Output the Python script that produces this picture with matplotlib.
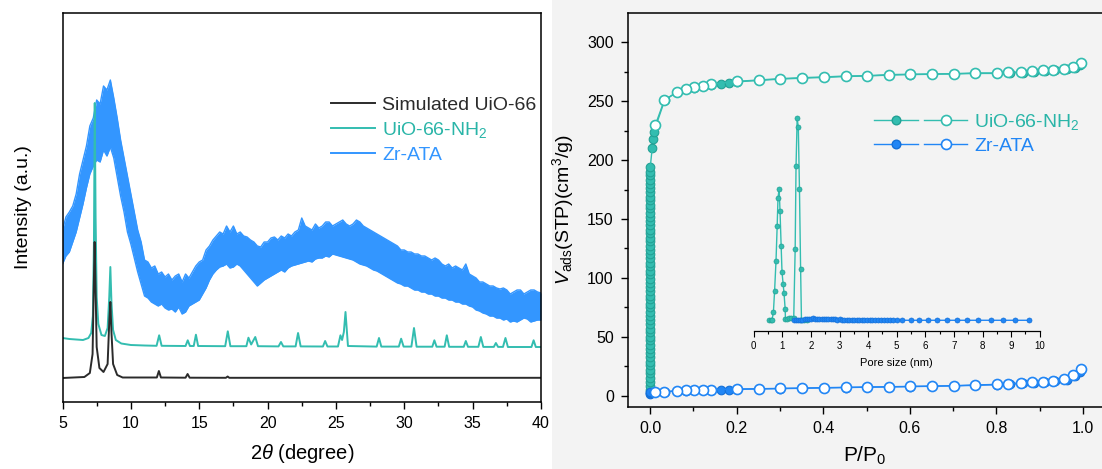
import matplotlib
matplotlib.use("Agg")
import matplotlib.pyplot as plt
import numpy as np
from matplotlib.lines import Line2D
from matplotlib.legend_handler import HandlerTuple
from matplotlib.patches import Rectangle
from matplotlib.ticker import MultipleLocator

plt.rcParams['font.family'] = ['Liberation Sans', 'DejaVu Sans']
plt.rcParams['mathtext.fontset'] = 'custom'
plt.rcParams['mathtext.rm'] = 'Liberation Sans'
plt.rcParams['mathtext.it'] = 'Liberation Sans:italic'

BLACK = '#2b2b2b'
TEAL = '#33bdb0'
TEAL_TXT = '#2ab5a8'
BLUE_XRD = '#3396ff'
BLUE = '#2186f5'

# ---------------- XRD patterns ----------------
sim_2theta = [5.0, 6.6, 7.0, 7.2, 7.28, 7.35, 7.42, 7.5, 7.7, 8.0, 8.3, 8.42, 8.5, 8.58, 8.7, 9.0,
              9.4, 11.9, 12.05, 12.2, 14.0, 14.15, 14.3, 16.95, 17.08, 17.2, 40.0]
sim_int = [24, 25, 29, 48, 110, 160, 112, 55, 34, 30, 38, 80, 100, 70, 38, 27,
           24.5, 24.5, 31, 24.5, 24.3, 28, 24.3, 24.2, 25.5, 24.2, 24.2]

nh2_2theta = [5.0, 5.5, 6.0, 6.5, 6.9, 7.1, 7.22, 7.3, 7.36, 7.42, 7.5, 7.62, 7.85, 8.1, 8.3, 8.42,
              8.5, 8.58, 8.7, 8.9, 9.3, 10.0, 11.0, 11.88, 12.07, 12.25, 14.0, 14.16, 14.32, 14.6,
              14.76, 14.92, 16.9, 17.09, 17.28, 18.45, 18.6, 18.8, 19.1, 19.3, 20.8, 20.98, 21.15,
              22.05, 22.23, 22.42, 24.05, 24.21, 24.38, 25.15, 25.33, 25.45, 25.58, 25.7, 25.88,
              27.98, 28.15, 28.32, 29.6, 29.77, 29.95, 30.52, 30.71, 30.9, 32.05, 32.2, 32.36,
              32.95, 33.11, 33.28, 34.35, 34.5, 34.66, 35.42, 35.6, 35.78, 36.55, 36.7, 36.86,
              37.22, 37.4, 37.58, 39.3, 39.46, 39.62, 40.0]
nh2_int = [64, 63, 62.5, 62, 64, 69, 86, 160, 299, 185, 105, 78, 67, 66, 74, 105,
           135, 100, 72, 62, 58.5, 57, 56.5, 56.2, 66.7, 56.2, 56, 61.7, 56, 56,
           67.3, 56, 55.8, 70.7, 55.8, 55.8, 64.3, 57.5, 65, 55.8, 55.6, 60, 55.6,
           55.6, 69, 55.6, 55.5, 61, 55.5, 55.5, 66.7, 62, 70, 90, 56,
           55.4, 64, 55.4, 55.4, 63.3, 55.4, 55.4, 74, 55.3, 55.3, 61.7, 55.3,
           55.3, 66.7, 55.2, 55.2, 61, 55.2, 55.2, 65, 55.1, 55.1, 59, 55.1,
           55.1, 64, 55.0, 55.0, 61.7, 55.0, 55.0]

# Zr-ATA is a very noisy broad pattern: drawn as its lower/upper envelope, 0.25 deg apart
ata_2theta = np.arange(5.0, 40.001, 0.25)
ata_up = [172, 185, 190, 196,
          208, 228, 242, 256,
          276, 284, 302, 298,
          316, 312, 322, 304,
          284, 262, 244, 226,
          208, 190, 172, 160,
          142, 140, 134, 136,
          128, 130, 125, 128,
          122, 126, 128, 120,
          128, 124, 130, 136,
          140, 142, 152, 156,
          162, 166, 170, 168,
          176, 170, 176, 168,
          170, 166, 165, 162,
          160, 156, 155, 160,
          160, 164, 165, 162,
          166, 164, 168, 166,
          170, 172, 184, 176,
          174, 172, 178, 174,
          176, 180, 180, 176,
          178, 180, 182, 178,
          176, 178, 182, 180,
          176, 174, 172, 170,
          168, 166, 164, 162,
          160, 158, 156, 152,
          152, 150, 150, 148,
          148, 146, 146, 144,
          142, 144, 142, 138,
          136, 138, 134, 136,
          134, 132, 138, 128,
          126, 124, 120, 120,
          118, 116, 116, 114,
          113, 114, 112, 108,
          110, 112, 112, 108,
          110, 112, 112, 110,
          109]
ata_low = [138, 146, 150, 160,
           170, 184, 198, 214,
           228, 236, 242, 240,
           252, 246, 255, 244,
           225, 206, 190, 170,
           158, 144, 130, 118,
           106, 104, 100, 98,
           96, 98, 94, 92,
           93, 90, 95, 88,
           90, 96, 98, 100,
           102, 108, 114, 122,
           128, 132, 135, 136,
           138, 134, 135, 138,
           136, 132, 128, 124,
           120, 116, 119, 122,
           124, 126, 128, 130,
           132, 130, 134, 136,
           137, 138, 139, 140,
           141, 140, 143, 144,
           144, 146, 145, 148,
           147, 146, 145, 144,
           143, 142, 140, 138,
           137, 136, 134, 132,
           131, 129, 127, 125,
           123, 121, 119, 118,
           116, 116, 114, 112,
           112, 110, 110, 108,
           108, 106, 106, 104,
           104, 102, 102, 100,
           100, 98, 98, 96,
           95, 92, 91, 89,
           88, 86, 86, 84,
           84, 82, 83, 80,
           81, 80, 82, 84,
           83, 80, 81, 82,
           82]

# ---------------- N2 isotherms ----------------
nh2_ads_stack = [5, 8, 12, 15, 19, 22, 26, 29, 33, 36, 40, 43, 47, 50, 54, 57, 61, 64, 68, 71,
                 75, 78, 82, 85, 89, 92, 96, 99, 103, 106, 110, 113, 117, 120, 124, 127, 131,
                 134, 138, 141, 145, 148, 152, 155, 159, 162, 166, 169, 173, 176, 180, 183,
                 187, 190, 194]
nh2_ads_p = [0.005, 0.007, 0.009, 0.034, 0.062, 0.082, 0.101, 0.122, 0.142, 0.163, 0.183, 0.201,
             0.251, 0.301, 0.352, 0.401, 0.452, 0.502, 0.552, 0.601, 0.651, 0.701, 0.750,
             0.801, 0.832, 0.862, 0.887, 0.912, 0.936, 0.962, 0.982, 0.993]
nh2_ads_v = [210, 218, 224, 251, 257.5, 260, 261.5, 263, 264, 265, 265.8, 266.5,
             267.6, 268.8, 269.6, 270.2, 271, 271.4, 272.2, 272.6, 272.9, 273.1, 273.6,
             273.6, 274.2, 274.3, 275.2, 275.6, 276.3, 277.2, 278.5, 280.5]
nh2_des_p = [0.996, 0.978, 0.957, 0.931, 0.907, 0.882, 0.857, 0.827, 0.801, 0.750, 0.701,
             0.651, 0.601, 0.552, 0.502, 0.452, 0.401, 0.352, 0.301, 0.251, 0.201, 0.142,
             0.122, 0.101, 0.082, 0.062, 0.033, 0.012]
nh2_des_v = [282.8, 279.1, 277.7, 276.8, 276.2, 275.7, 274.8, 274.6, 274.0, 274.0, 273.4,
             273.2, 272.9, 272.6, 271.7, 271.4, 270.6, 270.0, 269.2, 268.0, 266.9, 264.4,
             263.2, 261.8, 260.4, 257.9, 250.8, 229.5]

ata_ads_stack = [1.5, 2.2, 2.8]
ata_ads_p = [0.010, 0.034, 0.062, 0.082, 0.101, 0.122, 0.142, 0.163, 0.183, 0.201, 0.251,
             0.301, 0.352, 0.401, 0.452, 0.502, 0.552, 0.601, 0.651, 0.701, 0.750, 0.801,
             0.832, 0.862, 0.887, 0.912, 0.936, 0.962, 0.982, 0.993]
ata_ads_v = [3.0, 3.3, 4.0, 4.3, 4.5, 4.7, 4.8, 5.0, 5.1, 5.4, 5.7, 6.0, 6.3, 6.6, 6.9,
             7.2, 7.4, 7.7, 8.0, 8.3, 8.8, 9.3, 9.8, 10.4, 10.9, 11.5, 12.3, 13.6,
             16.5, 20.5]
ata_des_p = [0.996, 0.978, 0.957, 0.931, 0.907, 0.882, 0.857, 0.827, 0.801, 0.750, 0.701,
             0.651, 0.601, 0.552, 0.502, 0.452, 0.401, 0.352, 0.301, 0.251, 0.201, 0.142,
             0.122, 0.101, 0.082, 0.062, 0.033, 0.012]
ata_des_v = [22.6, 17.5, 14.2, 12.7, 11.9, 11.3, 10.8, 10.2, 9.6, 9.1, 8.5, 8.2, 7.9, 7.6,
             7.4, 7.1, 6.8, 6.5, 6.2, 5.9, 5.7, 5.1, 4.9, 4.7, 4.5, 4.2, 3.4, 2.8]

# ---------------- pore size distribution (inset) ----------------
psd_nh2_d = [0.55, 0.60, 0.64, 0.69, 0.73, 0.78, 0.82, 0.85, 0.89, 0.92, 0.96, 0.99, 1.03,
             1.06, 1.10, 1.11, 1.18, 1.25, 1.32, 1.40, 1.45, 1.48, 1.52, 1.56, 1.60, 1.64,
             1.67, 1.75, 1.85]
psd_nh2_v = [0.0, 0.0, 0.0, 0.043, 0.144, 0.294, 0.464, 0.607, 0.650, 0.541, 0.366, 0.238,
             0.178, 0.134, 0.056, 0.006, 0.007, 0.010, 0.012, 0.013, 0.353, 0.761, 1.0,
             0.954, 0.650, 0.254, 0.0, 0.0, 0.0]
psd_ata_d = [1.40, 1.48, 1.56, 1.63, 1.70, 1.78, 1.86, 1.93, 2.00, 2.08, 2.15, 2.22, 2.30,
             2.38, 2.45, 2.53, 2.61, 2.69, 2.77, 2.85, 2.93, 3.01, 3.09, 3.17, 3.25, 3.34,
             3.42, 3.51, 3.60, 3.69, 3.78, 3.87, 3.96, 4.05, 4.15, 4.25, 4.35, 4.45, 4.55,
             4.66, 4.77, 4.88, 5.00, 5.20, 5.50, 5.79, 6.09, 6.41, 6.75, 7.11, 7.47, 7.86,
             8.30, 8.72, 9.14, 9.64]
psd_ata_v = [0.001, 0.002, 0.002, 0.003, 0.003, 0.004, 0.005, 0.006, 0.008, 0.009, 0.008,
             0.007, 0.008, 0.007, 0.006, 0.005, 0.005, 0.004, 0.004, 0.004, 0.003, 0.004,
             0.003, 0.003, 0.003, 0.002, 0.003, 0.002, 0.002, 0.003, 0.002, 0.002, 0.002,
             0.002, 0.001, 0.002, 0.001, 0.001, 0.001, 0.001, 0.001, 0.001, 0.001, 0.0,
             0.0, 0.0, 0.0, 0.0, 0.0, 0.0, 0.0, 0.0, 0.0, 0.0, 0.0, 0.0]

W, H = 1102, 469
fig = plt.figure(figsize=(W / 100, H / 100), dpi=100)
fig.patch.set_facecolor('white')
fig.patches.append(Rectangle((552 / W, 0), 1 - 552 / W, 1, transform=fig.transFigure,
                             facecolor='#f3f3f3', edgecolor='none', zorder=-10))

# ---------------- left: XRD ----------------
ax1 = fig.add_axes([62.5 / W, (H - 402) / H, 478.5 / W, 389 / H])
ax1.fill_between(ata_2theta, ata_low, ata_up, color=BLUE_XRD, lw=0)
ax1.plot(ata_2theta, ata_low, color=BLUE_XRD, lw=1.0)
ax1.plot(ata_2theta, ata_up, color=BLUE_XRD, lw=1.0)
ax1.plot(nh2_2theta, nh2_int, color=TEAL, lw=1.4)
ax1.plot(sim_2theta, sim_int, color=BLACK, lw=1.4)
ax1.set_xlim(5, 40)
ax1.set_ylim(0, 389)
ax1.xaxis.set_major_locator(MultipleLocator(5))
ax1.xaxis.set_minor_locator(MultipleLocator(2.5))
ax1.tick_params(axis='x', which='major', direction='out', length=5, width=1, labelsize=11.5, pad=5)
ax1.tick_params(axis='x', which='minor', direction='out', length=3, width=1)
ax1.set_yticks([])
for sp in ax1.spines.values():
    sp.set_linewidth(1.1)
ax1.set_xlabel(r'2$\theta$ (degree)', fontsize=14.5, labelpad=8)
ax1.set_ylabel('Intensity (a.u.)', fontsize=14, labelpad=22)

leg_handles = [Line2D([], [], color=BLACK, lw=1.4),
               Line2D([], [], color=TEAL, lw=1.4),
               Line2D([], [], color=BLUE_XRD, lw=1.4)]
leg1 = ax1.legend(leg_handles, ['Simulated UiO-66', r'UiO-66-NH$_2$', 'Zr-ATA'],
                  loc='upper left', bbox_to_anchor=(0.54, 0.81), frameon=False, fontsize=14,
                  handlelength=2.3, handletextpad=0.35, labelspacing=0.3, borderpad=0)
for txt, c in zip(leg1.get_texts(), [BLACK, TEAL_TXT, BLUE_XRD]):
    txt.set_color(c)

# ---------------- right: isotherms ----------------
ax2 = fig.add_axes([627.7 / W, (H - 407) / H, 1 - 627.7 / W, 394 / H])
ax2.set_facecolor('none')
ms_open, ms_fill = 7.2, 6.2

ax2.plot(np.full(len(nh2_ads_stack), 0.0006), nh2_ads_stack, 'o-', color=TEAL, lw=1,
         ms=ms_fill, mfc=TEAL, mec='#22a195', mew=0.8)
ax2.plot(nh2_ads_p, nh2_ads_v, 'o-', color=TEAL, lw=1, ms=ms_fill, mfc=TEAL, mec='#22a195', mew=0.8)
ax2.plot([0.0006, nh2_ads_p[0]], [nh2_ads_stack[-1], nh2_ads_v[0]], '-', color=TEAL, lw=1)
ax2.plot(nh2_des_p, nh2_des_v, 'o-', color=TEAL, lw=1, ms=ms_open, mfc='white', mec=TEAL, mew=1.2)

ax2.plot(np.full(len(ata_ads_stack), 0.0006), ata_ads_stack, 'o-', color=BLUE, lw=1,
         ms=ms_fill, mfc=BLUE, mec='#1470d8', mew=0.8)
ax2.plot(ata_ads_p, ata_ads_v, 'o-', color=BLUE, lw=1, ms=ms_fill, mfc=BLUE, mec='#1470d8', mew=0.8)
ax2.plot(ata_des_p, ata_des_v, 'o-', color=BLUE, lw=1, ms=ms_open, mfc='white', mec=BLUE, mew=1.2)

ax2.set_xlim(-22.3 / 433, 452 / 433)
ax2.set_ylim(-9.6, 324.9)
ax2.xaxis.set_major_locator(MultipleLocator(0.2))
ax2.xaxis.set_minor_locator(MultipleLocator(0.1))
ax2.yaxis.set_major_locator(MultipleLocator(50))
ax2.yaxis.set_minor_locator(MultipleLocator(25))
ax2.xaxis.set_major_formatter(plt.FormatStrFormatter('%.1f'))
ax2.tick_params(which='major', direction='out', length=5, width=1, labelsize=11.5, pad=5)
ax2.tick_params(which='minor', direction='out', length=3, width=1)
ax2.spines['right'].set_visible(False)
for sp in ax2.spines.values():
    sp.set_linewidth(1.1)
ax2.set_xlabel(r'P/P$_0$', fontsize=15, labelpad=6)
ax2.set_ylabel(r'$V_{\rm ads}$(STP)(cm$^3$/g)', fontsize=14, labelpad=8)

h_nh2 = (Line2D([], [], color=TEAL, lw=1, marker='o', ms=ms_fill, mfc=TEAL, mec='#22a195'),
         Line2D([], [], color=TEAL, lw=1, marker='o', ms=ms_open, mfc='white', mec=TEAL, mew=1.2))
h_ata = (Line2D([], [], color=BLUE, lw=1, marker='o', ms=ms_fill, mfc=BLUE, mec='#1470d8'),
         Line2D([], [], color=BLUE, lw=1, marker='o', ms=ms_open, mfc='white', mec=BLUE, mew=1.2))
leg2 = ax2.legend([h_nh2, h_ata], [r'UiO-66-NH$_2$', 'Zr-ATA'],
                  handler_map={tuple: HandlerTuple(ndivide=None, pad=0.3)},
                  loc='upper left', bbox_to_anchor=(0.499, 0.773), frameon=False, fontsize=14,
                  handlelength=4.8, handletextpad=0.35, labelspacing=0.25, borderpad=0)
for txt, c in zip(leg2.get_texts(), [TEAL_TXT, BLUE]):
    txt.set_color(c)

# ---------------- inset: pore size distribution ----------------
axi = fig.add_axes([753.7 / W, (H - 331) / H, 286 / W, 223 / H])
axi.set_facecolor('none')
axi.plot(psd_nh2_d, psd_nh2_v, 'o-', color=TEAL, lw=1, ms=3.6, mfc=TEAL, mec='#22a195', mew=0.5)
axi.plot(psd_ata_d, psd_ata_v, 'o-', color=BLUE, lw=1, ms=3.6, mfc=BLUE, mec='#1470d8', mew=0.5)
axi.set_xlim(0, 10)
axi.set_ylim(-0.053, 1.05)
axi.xaxis.set_major_locator(MultipleLocator(1))
axi.xaxis.set_minor_locator(MultipleLocator(0.5))
axi.tick_params(axis='x', which='major', direction='out', length=4, width=0.8, labelsize=7, pad=3)
axi.tick_params(axis='x', which='minor', direction='out', length=2, width=0.8)
axi.set_yticks([])
for side in ('left', 'right', 'top'):
    axi.spines[side].set_visible(False)
axi.spines['bottom'].set_linewidth(0.9)
axi.set_xlabel('Pore size (nm)', fontsize=8, labelpad=5)

fig.savefig('out.png', dpi=100)
